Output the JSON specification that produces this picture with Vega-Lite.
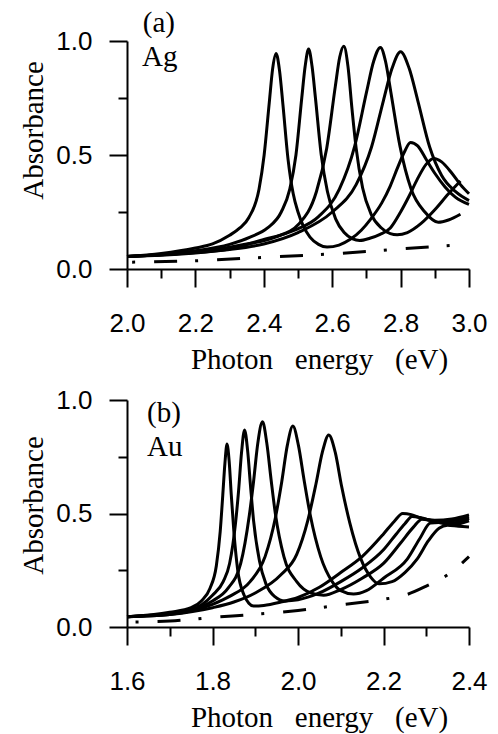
{
  "$schema": "https://vega.github.io/schema/vega-lite/v6.json",
  "background": "white",
  "padding": {"left": 19, "top": 8, "right": 5, "bottom": 5},
  "config": {
    "view": {"stroke": null},
    "concat": {"spacing": 13},
    "axis": {
      "grid": false, "domain": true, "ticks": true,
      "domainColor": "#000000", "domainWidth": 2, "domainOpacity": 1,
      "tickColor": "#000000", "tickWidth": 2, "tickOpacity": 1,
      "labelFont": "Liberation Sans", "labelFontSize": 26, "labelColor": "black",
      "titleFont": "Liberation Serif", "titleFontSize": 29, "titleFontWeight": "normal", "titleColor": "black",
      "labelFlush": false, "labelOverlap": false
    },
    "text": {"font": "Liberation Serif", "fontSize": 29, "color": "black"}
  },
  "datasets": {
    "ag": [
      {"c": 1, "e": 2.0, "a": 0.055}, {"c": 1, "e": 2.1, "a": 0.068}, {"c": 1, "e": 2.2, "a": 0.092}, {"c": 1, "e": 2.25, "a": 0.11}, {"c": 1, "e": 2.3, "a": 0.148}, {"c": 1, "e": 2.33, "a": 0.18}, {"c": 1, "e": 2.356, "a": 0.225}, {"c": 1, "e": 2.386, "a": 0.35}, {"c": 1, "e": 2.401, "a": 0.5}, {"c": 1, "e": 2.416, "a": 0.73}, {"c": 1, "e": 2.426, "a": 0.88}, {"c": 1, "e": 2.436, "a": 0.945}, {"c": 1, "e": 2.446, "a": 0.87}, {"c": 1, "e": 2.456, "a": 0.72}, {"c": 1, "e": 2.471, "a": 0.48}, {"c": 1, "e": 2.486, "a": 0.33}, {"c": 1, "e": 2.5, "a": 0.25}, {"c": 1, "e": 2.515, "a": 0.19}, {"c": 1, "e": 2.535, "a": 0.14}, {"c": 1, "e": 2.56, "a": 0.108}, {"c": 1, "e": 2.585, "a": 0.096}, {"c": 1, "e": 2.62, "a": 0.105}, {"c": 1, "e": 2.653, "a": 0.13}, {"c": 1, "e": 2.685, "a": 0.17}, {"c": 1, "e": 2.712, "a": 0.218}, {"c": 1, "e": 2.745, "a": 0.29}, {"c": 1, "e": 2.77, "a": 0.365}, {"c": 1, "e": 2.79, "a": 0.44}, {"c": 1, "e": 2.81, "a": 0.51}, {"c": 1, "e": 2.829, "a": 0.555}, {"c": 1, "e": 2.85, "a": 0.54}, {"c": 1, "e": 2.875, "a": 0.48}, {"c": 1, "e": 2.9, "a": 0.42}, {"c": 1, "e": 2.93, "a": 0.36}, {"c": 1, "e": 2.96, "a": 0.315}, {"c": 1, "e": 3.0, "a": 0.283},
      {"c": 2, "e": 2.0, "a": 0.055}, {"c": 2, "e": 2.1, "a": 0.064}, {"c": 2, "e": 2.2, "a": 0.08}, {"c": 2, "e": 2.3, "a": 0.108}, {"c": 2, "e": 2.36, "a": 0.14}, {"c": 2, "e": 2.411, "a": 0.18}, {"c": 2, "e": 2.451, "a": 0.25}, {"c": 2, "e": 2.476, "a": 0.35}, {"c": 2, "e": 2.494, "a": 0.5}, {"c": 2, "e": 2.511, "a": 0.75}, {"c": 2, "e": 2.521, "a": 0.89}, {"c": 2, "e": 2.531, "a": 0.965}, {"c": 2, "e": 2.541, "a": 0.89}, {"c": 2, "e": 2.551, "a": 0.75}, {"c": 2, "e": 2.568, "a": 0.5}, {"c": 2, "e": 2.586, "a": 0.34}, {"c": 2, "e": 2.61, "a": 0.22}, {"c": 2, "e": 2.635, "a": 0.16}, {"c": 2, "e": 2.66, "a": 0.132}, {"c": 2, "e": 2.68, "a": 0.125}, {"c": 2, "e": 2.71, "a": 0.135}, {"c": 2, "e": 2.74, "a": 0.152}, {"c": 2, "e": 2.77, "a": 0.18}, {"c": 2, "e": 2.8, "a": 0.25}, {"c": 2, "e": 2.825, "a": 0.32}, {"c": 2, "e": 2.849, "a": 0.394}, {"c": 2, "e": 2.875, "a": 0.46}, {"c": 2, "e": 2.897, "a": 0.485}, {"c": 2, "e": 2.92, "a": 0.47}, {"c": 2, "e": 2.95, "a": 0.42}, {"c": 2, "e": 2.975, "a": 0.37}, {"c": 2, "e": 3.0, "a": 0.33},
      {"c": 3, "e": 2.0, "a": 0.055}, {"c": 3, "e": 2.1, "a": 0.062}, {"c": 3, "e": 2.2, "a": 0.075}, {"c": 3, "e": 2.3, "a": 0.095}, {"c": 3, "e": 2.334, "a": 0.105}, {"c": 3, "e": 2.434, "a": 0.14}, {"c": 3, "e": 2.504, "a": 0.2}, {"c": 3, "e": 2.554, "a": 0.34}, {"c": 3, "e": 2.584, "a": 0.53}, {"c": 3, "e": 2.609, "a": 0.8}, {"c": 3, "e": 2.622, "a": 0.93}, {"c": 3, "e": 2.634, "a": 0.977}, {"c": 3, "e": 2.646, "a": 0.89}, {"c": 3, "e": 2.658, "a": 0.7}, {"c": 3, "e": 2.67, "a": 0.53}, {"c": 3, "e": 2.689, "a": 0.355}, {"c": 3, "e": 2.714, "a": 0.24}, {"c": 3, "e": 2.744, "a": 0.18}, {"c": 3, "e": 2.77, "a": 0.155}, {"c": 3, "e": 2.79, "a": 0.15}, {"c": 3, "e": 2.82, "a": 0.16}, {"c": 3, "e": 2.86, "a": 0.2}, {"c": 3, "e": 2.9, "a": 0.26}, {"c": 3, "e": 2.94, "a": 0.33}, {"c": 3, "e": 2.975, "a": 0.386},
      {"c": 4, "e": 2.0, "a": 0.055}, {"c": 4, "e": 2.1, "a": 0.062}, {"c": 4, "e": 2.2, "a": 0.072}, {"c": 4, "e": 2.3, "a": 0.088}, {"c": 4, "e": 2.39, "a": 0.125}, {"c": 4, "e": 2.49, "a": 0.17}, {"c": 4, "e": 2.56, "a": 0.23}, {"c": 4, "e": 2.621, "a": 0.35}, {"c": 4, "e": 2.666, "a": 0.54}, {"c": 4, "e": 2.701, "a": 0.78}, {"c": 4, "e": 2.721, "a": 0.91}, {"c": 4, "e": 2.741, "a": 0.972}, {"c": 4, "e": 2.756, "a": 0.91}, {"c": 4, "e": 2.771, "a": 0.78}, {"c": 4, "e": 2.798, "a": 0.54}, {"c": 4, "e": 2.831, "a": 0.35}, {"c": 4, "e": 2.871, "a": 0.25}, {"c": 4, "e": 2.91, "a": 0.205}, {"c": 4, "e": 2.94, "a": 0.215}, {"c": 4, "e": 2.975, "a": 0.24},
      {"c": 5, "e": 2.0, "a": 0.055}, {"c": 5, "e": 2.1, "a": 0.06}, {"c": 5, "e": 2.2, "a": 0.07}, {"c": 5, "e": 2.3, "a": 0.085}, {"c": 5, "e": 2.4, "a": 0.11}, {"c": 5, "e": 2.5, "a": 0.16}, {"c": 5, "e": 2.6, "a": 0.25}, {"c": 5, "e": 2.67, "a": 0.37}, {"c": 5, "e": 2.715, "a": 0.535}, {"c": 5, "e": 2.75, "a": 0.74}, {"c": 5, "e": 2.775, "a": 0.88}, {"c": 5, "e": 2.8, "a": 0.953}, {"c": 5, "e": 2.825, "a": 0.88}, {"c": 5, "e": 2.85, "a": 0.74}, {"c": 5, "e": 2.885, "a": 0.535}, {"c": 5, "e": 2.92, "a": 0.41}, {"c": 5, "e": 2.96, "a": 0.34}, {"c": 5, "e": 3.0, "a": 0.3}
    ],
    "agref": [
      {"e": 2.015, "a": 0.03}, {"e": 2.2, "a": 0.036}, {"e": 2.4, "a": 0.051}, {"e": 2.6, "a": 0.066}, {"e": 2.8, "a": 0.088}, {"e": 2.96, "a": 0.105}
    ],
    "au": [
      {"c": 1, "e": 1.6, "a": 0.045}, {"c": 1, "e": 1.7, "a": 0.065}, {"c": 1, "e": 1.75, "a": 0.085}, {"c": 1, "e": 1.774, "a": 0.115}, {"c": 1, "e": 1.794, "a": 0.17}, {"c": 1, "e": 1.809, "a": 0.27}, {"c": 1, "e": 1.818, "a": 0.42}, {"c": 1, "e": 1.824, "a": 0.58}, {"c": 1, "e": 1.829, "a": 0.72}, {"c": 1, "e": 1.834, "a": 0.806}, {"c": 1, "e": 1.839, "a": 0.73}, {"c": 1, "e": 1.844, "a": 0.58}, {"c": 1, "e": 1.85, "a": 0.42}, {"c": 1, "e": 1.859, "a": 0.25}, {"c": 1, "e": 1.874, "a": 0.14}, {"c": 1, "e": 1.885, "a": 0.105}, {"c": 1, "e": 1.896, "a": 0.092}, {"c": 1, "e": 1.92, "a": 0.095}, {"c": 1, "e": 1.96, "a": 0.11}, {"c": 1, "e": 2.0, "a": 0.13}, {"c": 1, "e": 2.05, "a": 0.175}, {"c": 1, "e": 2.1, "a": 0.24}, {"c": 1, "e": 2.15, "a": 0.31}, {"c": 1, "e": 2.2, "a": 0.41}, {"c": 1, "e": 2.225, "a": 0.465}, {"c": 1, "e": 2.245, "a": 0.5}, {"c": 1, "e": 2.265, "a": 0.495}, {"c": 1, "e": 2.29, "a": 0.478}, {"c": 1, "e": 2.32, "a": 0.47}, {"c": 1, "e": 2.36, "a": 0.476}, {"c": 1, "e": 2.4, "a": 0.494},
      {"c": 2, "e": 1.6, "a": 0.045}, {"c": 2, "e": 1.7, "a": 0.06}, {"c": 2, "e": 1.75, "a": 0.075}, {"c": 2, "e": 1.8, "a": 0.14}, {"c": 2, "e": 1.825, "a": 0.2}, {"c": 2, "e": 1.84, "a": 0.28}, {"c": 2, "e": 1.854, "a": 0.46}, {"c": 2, "e": 1.861, "a": 0.6}, {"c": 2, "e": 1.868, "a": 0.77}, {"c": 2, "e": 1.875, "a": 0.868}, {"c": 2, "e": 1.882, "a": 0.78}, {"c": 2, "e": 1.889, "a": 0.62}, {"c": 2, "e": 1.896, "a": 0.47}, {"c": 2, "e": 1.91, "a": 0.29}, {"c": 2, "e": 1.925, "a": 0.19}, {"c": 2, "e": 1.945, "a": 0.135}, {"c": 2, "e": 1.97, "a": 0.115}, {"c": 2, "e": 2.0, "a": 0.12}, {"c": 2, "e": 2.05, "a": 0.15}, {"c": 2, "e": 2.1, "a": 0.2}, {"c": 2, "e": 2.15, "a": 0.26}, {"c": 2, "e": 2.2, "a": 0.34}, {"c": 2, "e": 2.23, "a": 0.41}, {"c": 2, "e": 2.25, "a": 0.455}, {"c": 2, "e": 2.267, "a": 0.487}, {"c": 2, "e": 2.29, "a": 0.48}, {"c": 2, "e": 2.32, "a": 0.466}, {"c": 2, "e": 2.36, "a": 0.468}, {"c": 2, "e": 2.4, "a": 0.485},
      {"c": 3, "e": 1.6, "a": 0.045}, {"c": 3, "e": 1.7, "a": 0.06}, {"c": 3, "e": 1.75, "a": 0.075}, {"c": 3, "e": 1.8, "a": 0.115}, {"c": 3, "e": 1.836, "a": 0.17}, {"c": 3, "e": 1.866, "a": 0.28}, {"c": 3, "e": 1.886, "a": 0.49}, {"c": 3, "e": 1.896, "a": 0.64}, {"c": 3, "e": 1.906, "a": 0.81}, {"c": 3, "e": 1.917, "a": 0.904}, {"c": 3, "e": 1.927, "a": 0.81}, {"c": 3, "e": 1.937, "a": 0.65}, {"c": 3, "e": 1.947, "a": 0.5}, {"c": 3, "e": 1.967, "a": 0.31}, {"c": 3, "e": 1.997, "a": 0.2}, {"c": 3, "e": 2.03, "a": 0.15}, {"c": 3, "e": 2.06, "a": 0.14}, {"c": 3, "e": 2.1, "a": 0.165}, {"c": 3, "e": 2.15, "a": 0.215}, {"c": 3, "e": 2.2, "a": 0.28}, {"c": 3, "e": 2.24, "a": 0.37}, {"c": 3, "e": 2.27, "a": 0.44}, {"c": 3, "e": 2.29, "a": 0.475}, {"c": 3, "e": 2.31, "a": 0.47}, {"c": 3, "e": 2.34, "a": 0.457}, {"c": 3, "e": 2.37, "a": 0.46}, {"c": 3, "e": 2.4, "a": 0.478},
      {"c": 4, "e": 1.6, "a": 0.045}, {"c": 4, "e": 1.7, "a": 0.055}, {"c": 4, "e": 1.8, "a": 0.1}, {"c": 4, "e": 1.84, "a": 0.135}, {"c": 4, "e": 1.888, "a": 0.2}, {"c": 4, "e": 1.923, "a": 0.31}, {"c": 4, "e": 1.947, "a": 0.48}, {"c": 4, "e": 1.962, "a": 0.64}, {"c": 4, "e": 1.975, "a": 0.8}, {"c": 4, "e": 1.988, "a": 0.885}, {"c": 4, "e": 2.001, "a": 0.8}, {"c": 4, "e": 2.014, "a": 0.65}, {"c": 4, "e": 2.029, "a": 0.49}, {"c": 4, "e": 2.053, "a": 0.31}, {"c": 4, "e": 2.08, "a": 0.2}, {"c": 4, "e": 2.1, "a": 0.16}, {"c": 4, "e": 2.13, "a": 0.145}, {"c": 4, "e": 2.16, "a": 0.16}, {"c": 4, "e": 2.2, "a": 0.215}, {"c": 4, "e": 2.256, "a": 0.3}, {"c": 4, "e": 2.285, "a": 0.39}, {"c": 4, "e": 2.31, "a": 0.458}, {"c": 4, "e": 2.33, "a": 0.46}, {"c": 4, "e": 2.36, "a": 0.45}, {"c": 4, "e": 2.4, "a": 0.468},
      {"c": 5, "e": 1.6, "a": 0.045}, {"c": 5, "e": 1.7, "a": 0.055}, {"c": 5, "e": 1.8, "a": 0.085}, {"c": 5, "e": 1.85, "a": 0.11}, {"c": 5, "e": 1.9, "a": 0.15}, {"c": 5, "e": 1.96, "a": 0.23}, {"c": 5, "e": 1.997, "a": 0.32}, {"c": 5, "e": 2.023, "a": 0.47}, {"c": 5, "e": 2.042, "a": 0.63}, {"c": 5, "e": 2.057, "a": 0.77}, {"c": 5, "e": 2.072, "a": 0.846}, {"c": 5, "e": 2.087, "a": 0.77}, {"c": 5, "e": 2.102, "a": 0.62}, {"c": 5, "e": 2.121, "a": 0.46}, {"c": 5, "e": 2.147, "a": 0.3}, {"c": 5, "e": 2.17, "a": 0.22}, {"c": 5, "e": 2.19, "a": 0.19}, {"c": 5, "e": 2.22, "a": 0.2}, {"c": 5, "e": 2.25, "a": 0.24}, {"c": 5, "e": 2.279, "a": 0.3}, {"c": 5, "e": 2.305, "a": 0.38}, {"c": 5, "e": 2.33, "a": 0.435}, {"c": 5, "e": 2.35, "a": 0.448}, {"c": 5, "e": 2.375, "a": 0.444}, {"c": 5, "e": 2.4, "a": 0.441}
    ],
    "auref": [
      {"e": 1.62, "a": 0.022}, {"e": 1.7, "a": 0.026}, {"e": 1.8, "a": 0.042}, {"e": 1.9, "a": 0.056}, {"e": 2.0, "a": 0.073}, {"e": 2.1, "a": 0.097}, {"e": 2.2, "a": 0.122}, {"e": 2.25, "a": 0.14}, {"e": 2.3, "a": 0.18}, {"e": 2.35, "a": 0.23}, {"e": 2.4, "a": 0.31}
    ]
  },
  "vconcat": [
    {
      "width": 342, "height": 228,
      "resolve": {"axis": {"x": "independent", "y": "independent"}},
      "layer": [
        {
          "data": {"name": "ag"},
          "mark": {"type": "line", "interpolate": "monotone", "strokeWidth": 3, "color": "black"},
          "encoding": {
            "x": {"field": "e", "type": "quantitative", "scale": {"domain": [2, 3]},
              "axis": {"orient": "bottom", "domain": true, "ticks": true, "domainColor": "#000000", "tickColor": "#000000", "domainWidth": 2, "tickWidth": 2, "values": [2, 2.2, 2.4, 2.6, 2.8, 3.0], "format": ".1f", "tickSize": 18, "labelBaseline": "alphabetic", "labelPadding": 44,
                "title": "Photon\u00a0\u00a0\u00a0energy\u00a0\u00a0\u00a0(eV)", "titleX": 192, "titleY": 99, "titleAlign": "center", "titleBaseline": "alphabetic"}},
            "y": {"field": "a", "type": "quantitative", "scale": {"domain": [0, 1]},
              "axis": {"orient": "left", "domain": true, "ticks": true, "domainColor": "#000000", "tickColor": "#000000", "domainWidth": 2, "tickWidth": 2, "values": [0, 0.5, 1], "format": ".1f", "tickSize": 18, "labelPadding": 17,
                "title": "Absorbance", "titleX": -84.7, "titleY": 89, "titleAngle": 270, "titleAlign": "center", "titleBaseline": "alphabetic"}},
            "detail": {"field": "c"}
          }
        },
        {
          "data": {"name": "agref"},
          "mark": {"type": "line", "strokeWidth": 3, "color": "black", "strokeDash": [3, 19, 23, 18]},
          "encoding": {
            "x": {"field": "e", "type": "quantitative", "axis": {"orient": "bottom", "values": [2.1, 2.3, 2.5, 2.7, 2.9], "labels": false, "domain": false, "title": null, "tickSize": 9, "ticks": true, "tickColor": "#000000", "tickWidth": 2}},
            "y": {"field": "a", "type": "quantitative", "axis": {"orient": "left", "values": [0.25, 0.75], "labels": false, "domain": false, "title": null, "tickSize": 9, "ticks": true, "tickColor": "#000000", "tickWidth": 2}}
          }
        },
        {
          "data": {"values": [{"e": 2.046, "a": 1.04, "t": "(a)"}, {"e": 2.044, "a": 0.89, "t": "Ag"}]},
          "mark": {"type": "text", "align": "left", "baseline": "alphabetic"},
          "encoding": {
            "x": {"field": "e", "type": "quantitative", "axis": null},
            "y": {"field": "a", "type": "quantitative", "axis": null},
            "text": {"field": "t"}
          }
        }
      ]
    },
    {
      "width": 342, "height": 227,
      "resolve": {"axis": {"x": "independent", "y": "independent"}},
      "layer": [
        {
          "data": {"name": "au"},
          "mark": {"type": "line", "interpolate": "monotone", "strokeWidth": 3, "color": "black"},
          "encoding": {
            "x": {"field": "e", "type": "quantitative", "scale": {"domain": [1.6, 2.4]},
              "axis": {"orient": "bottom", "domain": true, "ticks": true, "domainColor": "#000000", "tickColor": "#000000", "domainWidth": 2, "tickWidth": 2, "values": [1.6, 1.8, 2.0, 2.2, 2.4], "format": ".1f", "tickSize": 18, "labelBaseline": "alphabetic", "labelPadding": 44,
                "title": "Photon\u00a0\u00a0\u00a0energy\u00a0\u00a0\u00a0(eV)", "titleX": 192, "titleY": 99, "titleAlign": "center", "titleBaseline": "alphabetic"}},
            "y": {"field": "a", "type": "quantitative", "scale": {"domain": [0, 1]},
              "axis": {"orient": "left", "domain": true, "ticks": true, "domainColor": "#000000", "tickColor": "#000000", "domainWidth": 2, "tickWidth": 2, "values": [0, 0.5, 1], "format": ".1f", "tickSize": 18, "labelPadding": 17,
                "title": "Absorbance", "titleX": -84.7, "titleY": 105, "titleAngle": 270, "titleAlign": "center", "titleBaseline": "alphabetic"}},
            "detail": {"field": "c"}
          }
        },
        {
          "data": {"name": "auref"},
          "mark": {"type": "line", "interpolate": "monotone", "strokeWidth": 3, "color": "black", "strokeDash": [3, 19, 23, 18]},
          "encoding": {
            "x": {"field": "e", "type": "quantitative", "axis": {"orient": "bottom", "values": [1.7, 1.9, 2.1, 2.3], "labels": false, "domain": false, "title": null, "tickSize": 9, "ticks": true, "tickColor": "#000000", "tickWidth": 2}},
            "y": {"field": "a", "type": "quantitative", "axis": {"orient": "left", "values": [0.25, 0.75], "labels": false, "domain": false, "title": null, "tickSize": 9, "ticks": true, "tickColor": "#000000", "tickWidth": 2}}
          }
        },
        {
          "data": {"values": [{"e": 1.647, "a": 0.904, "t": "(b)"}, {"e": 1.647, "a": 0.755, "t": "Au"}]},
          "mark": {"type": "text", "align": "left", "baseline": "alphabetic"},
          "encoding": {
            "x": {"field": "e", "type": "quantitative", "axis": null},
            "y": {"field": "a", "type": "quantitative", "axis": null},
            "text": {"field": "t"}
          }
        }
      ]
    }
  ]
}
